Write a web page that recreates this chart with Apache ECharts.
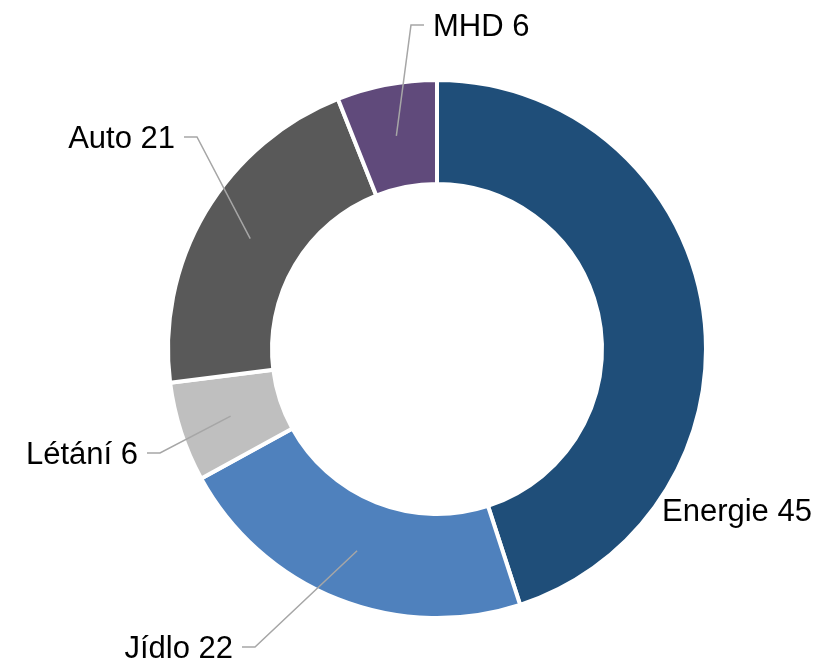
<!DOCTYPE html>
<html>
<head>
<meta charset="utf-8">
<title>Donut</title>
<script src="https://cdn.jsdelivr.net/npm/echarts@6/dist/echarts.min.js"></script>
<style>
  html, body { margin: 0; padding: 0; background: #fff; }
  #chart { width: 828px; height: 664px; }
</style>
</head>
<body>
<div id="chart"></div>
<script>
// data
var categories = ['Energie', 'Jídlo', 'Létání', 'Auto', 'MHD'];
var values = [45, 22, 6, 21, 6];
var colors = ['#1f4e79', '#4f81bd', '#bfbfbf', '#595959', '#604a7b'];

var cx = 437, cy = 349, rIn = 165, rOut = 269;

// where the label elbow sits, per slice (null = no leader line)
var elbows = [
  null,
  { x: 255, y: 647, dir: -1 },
  { x: 160, y: 453, dir: -1 },
  { x: 197, y: 137, dir: -1 },
  { x: 411, y: 25, dir: 1 }
];

var chart = echarts.init(document.getElementById('chart'));

var pieData = categories.map(function (c, i) {
  return { name: c, value: values[i], itemStyle: { color: colors[i] } };
});

var option = {
  animation: false,
  series: [{
    // the ring itself
    type: 'pie',
    z: 2,
    center: [cx, cy],
    radius: [rIn, rOut],
    startAngle: 90,
    clockwise: true,
    silent: true,
    itemStyle: { borderColor: '#fff', borderWidth: 4 },
    label: { show: false },
    labelLine: { show: false },
    data: pieData
  }, {
    // invisible copy on top, only for labels + leader lines
    type: 'pie',
    z: 5,
    center: [cx, cy],
    radius: [rIn, rOut],
    startAngle: 90,
    clockwise: true,
    silent: true,
    itemStyle: { color: 'rgba(0,0,0,0)', borderWidth: 0 },
    label: {
      show: true,
      position: 'outside',
      formatter: '{b} {c}',
      overflow: 'none',
      fontFamily: 'Liberation Sans, Arial, sans-serif',
      fontSize: 31,
      color: '#000'
    },
    labelLine: {
      show: true,
      lineStyle: { color: '#a6a6a6', width: 1.5 }
    },
    data: categories.map(function (c, i) {
      var d = { name: c, value: values[i] };
      if (!elbows[i]) d.labelLine = { show: false };
      return d;
    }),
    labelLayout: function (p) {
      var e = elbows[p.dataIndex];
      if (!e) {
        return { x: 662, y: 512, align: 'left', verticalAlign: 'middle' };
      }
      var p0 = p.labelLinePoints[0];
      var k = ((rIn + rOut) / 2) / rOut;
      var sx = cx + (p0[0] - cx) * k;
      var sy = cy + (p0[1] - cy) * k;
      return {
        x: e.x + e.dir * 22,
        y: e.y + 2,
        align: e.dir > 0 ? 'left' : 'right',
        verticalAlign: 'middle',
        labelLinePoints: [[sx, sy], [e.x, e.y], [e.x + e.dir * 13, e.y]]
      };
    }
  }]
};
chart.setOption(option);
</script>
</body>
</html>
